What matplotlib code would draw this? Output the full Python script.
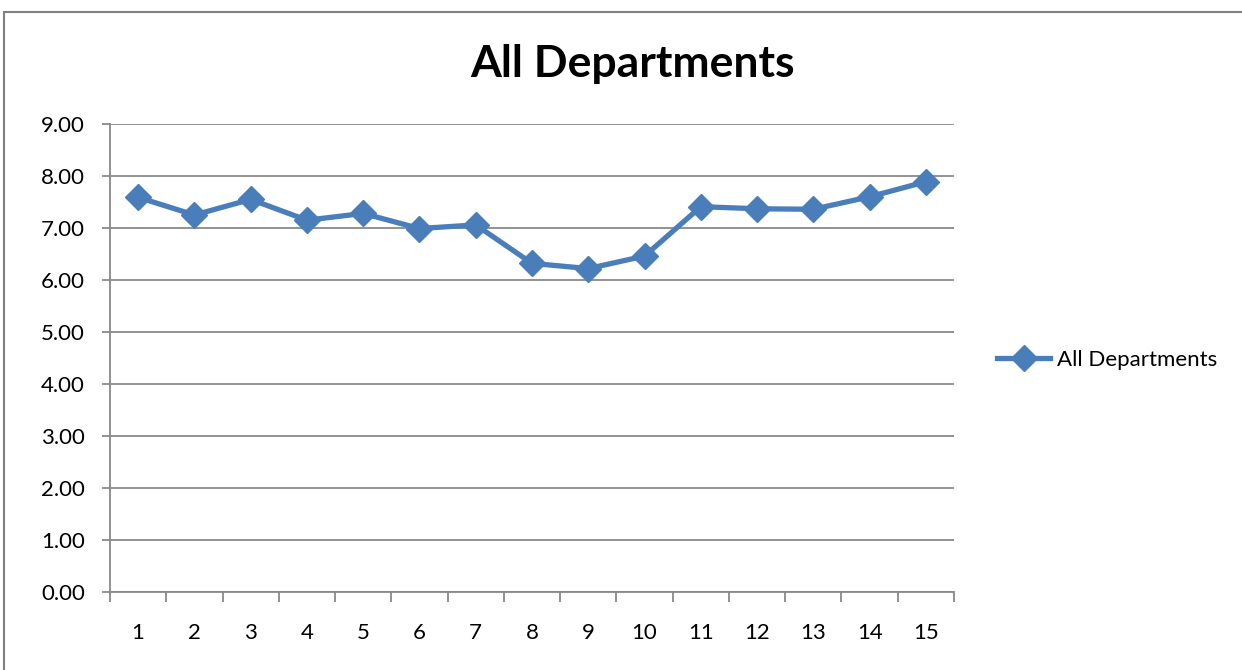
import matplotlib
matplotlib.use("Agg")
import matplotlib.pyplot as plt
from matplotlib.lines import Line2D
from matplotlib.patches import Rectangle

categories = [str(i) for i in range(1, 16)]
values = [7.59, 7.25, 7.55, 7.15, 7.28, 6.99, 7.06, 6.32, 6.22, 6.46,
          7.41, 7.37, 7.36, 7.60, 7.89]
series_name = "All Departments"
title = "All Departments"
y_ticks = [0, 1, 2, 3, 4, 5, 6, 7, 8, 9]

FONT = "Lato"
LINE_COLOR = "#4A7EBB"
GRID_COLOR = "#898989"

W, H = 1242, 670
fig = plt.figure(figsize=(W / 100, H / 100), dpi=100)

# outer chart border
fig.patches.append(Rectangle((4 / W, -0.1), 1.2, (H - 12) / H + 0.1,
                             transform=fig.transFigure, fill=False,
                             edgecolor="#808080", linewidth=1.5))

ax = fig.add_axes([110 / W, (H - 592) / H, (954 - 110) / W, (592 - 124) / H])

x = list(range(1, len(values) + 1))
ax.plot(x, values, color=LINE_COLOR, linewidth=3.8, marker="D",
        markersize=13, markerfacecolor=LINE_COLOR, markeredgecolor=LINE_COLOR,
        label=series_name, solid_joinstyle="round")

ax.set_xlim(0.5, len(values) + 0.5)
ax.set_ylim(0, 9)
ax.set_yticks(y_ticks)
ax.set_yticklabels([f"{v:.2f}" for v in y_ticks], fontname=FONT, fontsize=16)
ax.yaxis.grid(True, color=GRID_COLOR, linewidth=1.3)
ax.set_axisbelow(True)

ax.set_xticks(x)
ax.set_xticklabels(categories, fontname=FONT, fontsize=16)
ax.tick_params(axis="x", which="major", length=0, pad=22)
ax.set_xticks([i + 0.5 for i in range(0, len(values) + 1)], minor=True)
ax.tick_params(axis="x", which="minor", length=7, color=GRID_COLOR, width=1.3)
ax.tick_params(axis="y", length=6, color=GRID_COLOR, width=1.3, pad=12)

for s in ["top", "right"]:
    ax.spines[s].set_visible(False)
for s in ["left", "bottom"]:
    ax.spines[s].set_color(GRID_COLOR)
    ax.spines[s].set_linewidth(1.3)

fig.text(632 / W, (H - 64) / H, title, ha="center", va="center",
         fontname=FONT, fontweight="bold", fontsize=32)

handle = Line2D([], [], color=LINE_COLOR, linewidth=3.8, marker="D",
                markersize=13, markerfacecolor=LINE_COLOR)
fig.legend([handle], [series_name], loc="center left",
           bbox_to_anchor=(997 / W, (H - 360) / H), frameon=False,
           prop={"family": FONT, "size": 16}, handlelength=2.4,
           handletextpad=0.3, borderpad=0, borderaxespad=0)

fig.savefig("out.png", dpi=100)
